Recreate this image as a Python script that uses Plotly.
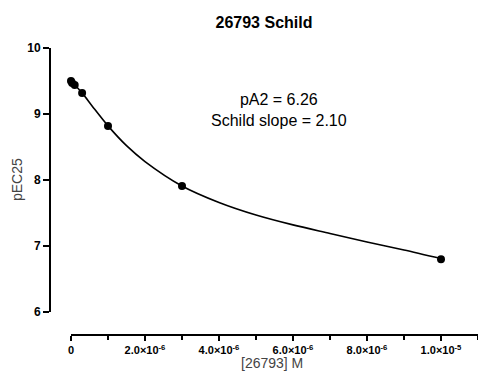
import plotly.graph_objects as go

# Data points (antagonist concentration, M) and pEC25
conc = [0.0, 3e-8, 1e-7, 3e-7, 1e-6, 3e-6, 1e-5]
pec25 = [9.50, 9.47, 9.44, 9.32, 8.82, 7.91, 6.80]

# Fitted curve
curve_x = [0.0, 1e-7, 3e-7, 6e-7, 1e-6, 1.5e-6, 2e-6, 3e-6, 4e-6, 5e-6, 6e-6, 7e-6, 8e-6, 9e-6, 1e-5]
curve_y = [9.49, 9.44, 9.32, 9.10, 8.82, 8.52, 8.28, 7.91, 7.66, 7.47, 7.32, 7.19, 7.06, 6.94, 6.81]

xtick_vals = [0, 2e-6, 4e-6, 6e-6, 8e-6, 1e-5]
xtick_text = ["<b>0</b>", "<b>2.0×10<sup>-6</sup></b>", "<b>4.0×10<sup>-6</sup></b>",
              "<b>6.0×10<sup>-6</sup></b>", "<b>8.0×10<sup>-6</sup></b>", "<b>1.0×10<sup>-5</sup></b>"]
ytick_vals = [6, 7, 8, 9, 10]
ytick_text = ["<b>6</b>", "<b>7</b>", "<b>8</b>", "<b>9</b>", "<b>10</b>"]

title_text = "26793 Schild"
x_title = "[26793] M"
y_title = "pEC25"
annot_text = "pA2 = 6.26<br>Schild slope = 2.10"

FONT = "Liberation Sans, Arial, sans-serif"

fig = go.Figure()
fig.add_trace(go.Scatter(x=curve_x, y=curve_y, mode="lines", line=dict(color="black", width=1.6, shape="spline", smoothing=0.8),
                         hoverinfo="skip", showlegend=False))
fig.add_trace(go.Scatter(x=conc, y=pec25, mode="markers", marker=dict(color="black", size=8),
                         showlegend=False))

x_min = -21 / 37 * 1e-6
x_max = 1.1e-5
y_max = 10
y_min = 10 - 287 / 66

fig.update_layout(
    width=478, height=373,
    margin=dict(l=50, r=0, t=48, b=38),
    plot_bgcolor="white", paper_bgcolor="white",
    font=dict(family=FONT, color="black"),
    title=dict(text="<b>" + title_text + "</b>", x=264 / 478, xref="container", xanchor="center",
               y=1 - 22 / 373, yref="container", yanchor="middle",
               font=dict(size=16, family=FONT, color="black")),
    xaxis=dict(range=[x_min, x_max], showgrid=False, zeroline=False, showline=False,
               tickmode="array", tickvals=xtick_vals, ticktext=xtick_text,
               ticks="outside", ticklen=5, tickwidth=1.5, tickcolor="black",
               tickfont=dict(size=11, family=FONT, color="black"),
               minor=dict(tickvals=[1e-6, 3e-6, 5e-6, 7e-6, 9e-6, 1.1e-5], ticks="outside",
                          ticklen=4, tickwidth=1.5, tickcolor="black", showgrid=False)),
    yaxis=dict(range=[y_min, y_max], showgrid=False, zeroline=False, showline=False,
               tickmode="array", tickvals=ytick_vals, ticktext=ytick_text,
               ticks="outside", ticklen=6, tickwidth=1.5, tickcolor="black",
               tickfont=dict(size=12, family=FONT, color="black")),
    shapes=[
        dict(type="line", xref="paper", yref="y", x0=0, x1=0, y0=6, y1=10,
             line=dict(color="black", width=2)),
        dict(type="line", xref="x", yref="paper", x0=0, x1=x_max, y0=0, y1=0,
             line=dict(color="black", width=2)),
    ],
    annotations=[
        dict(text=annot_text, xref="paper", yref="paper", x=(279 - 50) / 428, y=1 - (110 - 48) / 287,
             xanchor="center", yanchor="middle", showarrow=False, align="center",
             font=dict(size=16, family=FONT, color="black")),
        dict(text=x_title, xref="paper", yref="paper", x=(272 - 50) / 428, y=-(363 - 335) / 287,
             xanchor="center", yanchor="middle", showarrow=False,
             font=dict(size=14, family=FONT, color="#444")),
        dict(text=y_title, xref="paper", yref="paper", x=-(50 - 17) / 428, y=1 - (180 - 48) / 287,
             xanchor="center", yanchor="middle", showarrow=False, textangle=-90,
             font=dict(size=14, family=FONT, color="#444")),
    ],
)

fig.write_html("out.html", config={"displayModeBar": False},
               post_script="document.body.style.margin='0';document.body.style.padding='0';")
